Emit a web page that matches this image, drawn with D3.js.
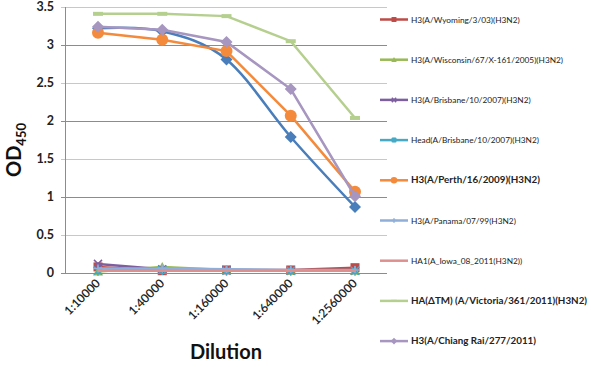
<!DOCTYPE html>
<html><head><meta charset="utf-8">
<script src="https://cdn.jsdelivr.net/npm/d3@7"></script>
<style>body{margin:0;background:#fff}svg{display:block}text{font-family:Lato,Carlito,"Open Sans","Liberation Sans",sans-serif}</style>
</head><body>
<script>
const categories = ["1:10000","1:40000","1:160000","1:640000","1:2560000"];
const yTicks = [0,0.5,1,1.5,2,2.5,3,3.5];
const seriesNames = ["","H3(A/Wyoming/3/03)(H3N2)","H3(A/Wisconsin/67/X-161/2005)(H3N2)","H3(A/Brisbane/10/2007)(H3N2)","Head(A/Brisbane/10/2007)(H3N2)","H3(A/Perth/16/2009)(H3N2)","H3(A/Panama/07/99(H3N2)","HA1(A_Iowa_08_2011(H3N2))","HA(ΔTM) (A/Victoria/361/2011)(H3N2)","H3(A/Chiang Rai/277/2011)"];
const valsSeries1 = [3.22,3.18,2.81,1.79,0.87];
const valsWyoming = [0.08,0.03,0.04,0.04,0.07];
const valsWisconsin = [0.02,0.08,0.04,0.03,0.03];
const valsBrisbane = [0.12,0.05,0.04,0.03,0.03];
const valsHead = [0.03,0.04,0.03,0.03,0.03];
const valsPerth = [3.16,3.07,2.92,2.07,1.07];
const valsPanama = [0.06,0.06,0.05,0.04,0.04];
const valsIowa = [0.03,0.03,0.03,0.03,0.03];
const valsVictoria = [3.41,3.41,3.38,3.05,2.04];
const valsChiangRai = [3.24,3.2,3.04,2.42,1.01];

const allVals = [valsSeries1,valsWyoming,valsWisconsin,valsBrisbane,valsHead,valsPerth,valsPanama,valsIowa,valsVictoria,valsChiangRai];
const colors = ["#4A7EBB","#BE4B48","#98B954","#7D5FA0","#46AAC5","#F38A3C","#8FAEDA","#DC918F","#B5CF8F","#A696C0"];
const markers = ["diamond","square","triangle","x","asterisk","circle","plus","none","dash","diamondSmall"];
const boldLegend = [false,false,false,false,false,true,false,false,true,true];

const W=591,H=367;
const svg=d3.select("body").append("svg").attr("width",W).attr("height",H);
const x=d3.scalePoint().domain(categories).range([98,355]);
const y=d3.scaleLinear().domain([0,3.5]).range([273,7]);

// gridlines
svg.append("g").selectAll("line").data(yTicks).join("line")
 .attr("x1",61).attr("x2",387).attr("y1",d=>Math.round(y(d))+0.5).attr("y2",d=>Math.round(y(d))+0.5)
 .attr("stroke",(d,i)=>i%2===0?"#8C8C8C":"#C8C8C8").attr("stroke-width",1);
svg.append("line").attr("x1",65.5).attr("x2",65.5).attr("y1",7).attr("y2",273).attr("stroke","#8C8C8C");

// y tick labels
svg.append("g").selectAll("text").data(yTicks).join("text")
 .attr("x",54).attr("y",d=>y(d)+4).attr("text-anchor","end")
 .attr("font-size",12.5).attr("font-weight","bold").attr("fill","#222").text(d=>d);

// x tick labels
svg.append("g").selectAll("text").data(categories).join("text")
 .attr("transform",d=>`translate(${x(d)+3},${284}) rotate(-45)`)
 .attr("text-anchor","end").attr("font-size",12).attr("font-weight","600").attr("fill","#222").text(d=>d);

// axis titles
const yt=svg.append("text").attr("transform","translate(21,150) rotate(-90)").attr("text-anchor","middle")
 .attr("font-weight","bold").attr("fill","#111");
yt.append("tspan").attr("font-size",20).text("OD");
yt.append("tspan").attr("font-size",13).attr("dy",5).text("450");
svg.append("text").attr("x",226).attr("y",359).attr("text-anchor","middle").attr("font-size",20)
 .attr("font-weight","bold").attr("fill","#111").text("Dilution");

function drawMarker(g,type,cx,cy,color,scale){
 const s=scale||1;
 if(type==="diamond"||type==="diamondSmall"){g.append("path").attr("d",`M${cx},${cy-6*s}L${cx+6*s},${cy}L${cx},${cy+6*s}L${cx-6*s},${cy}Z`).attr("fill",color);}
 else if(type==="square"){g.append("rect").attr("x",cx-4.5*s).attr("y",cy-4.5*s).attr("width",9*s).attr("height",9*s).attr("fill",color);}
 else if(type==="triangle"){g.append("path").attr("d",`M${cx},${cy-5*s}L${cx+5*s},${cy+4*s}L${cx-5*s},${cy+4*s}Z`).attr("fill",color);}
 else if(type==="circle"){g.append("circle").attr("cx",cx).attr("cy",cy).attr("r",6*s).attr("fill",color);}
 else if(type==="x"){g.append("path").attr("d",`M${cx-4*s},${cy-4*s}L${cx+4*s},${cy+4*s}M${cx+4*s},${cy-4*s}L${cx-4*s},${cy+4*s}`).attr("stroke",color).attr("stroke-width",1.5);}
 else if(type==="asterisk"){g.append("path").attr("d",`M${cx-4*s},${cy-4*s}L${cx+4*s},${cy+4*s}M${cx+4*s},${cy-4*s}L${cx-4*s},${cy+4*s}M${cx},${cy-5*s}L${cx},${cy+5*s}`).attr("stroke",color).attr("stroke-width",1.5);}
 else if(type==="plus"){g.append("path").attr("d",`M${cx-4*s},${cy}L${cx+4*s},${cy}M${cx},${cy-4*s}L${cx},${cy+4*s}`).attr("stroke",color).attr("stroke-width",1.5);}
 else if(type==="dash"){g.append("rect").attr("x",cx-5*s).attr("y",cy-2*s).attr("width",10*s).attr("height",4*s).attr("fill",color);}
}

const plot=svg.append("g");
allVals.forEach((vals,i)=>{
 const curve = i===0 ? d3.curveCatmullRom.alpha(0) : d3.curveLinear;
 const line=d3.line().x((d,j)=>x(categories[j])).y(d=>y(d)).curve(curve);
 plot.append("path").datum(vals).attr("d",line).attr("fill","none").attr("stroke",colors[i]).attr("stroke-width",2.5);
 vals.forEach((v,j)=>drawMarker(plot,markers[i],x(categories[j]),y(v),colors[i],1));
});
svg.append("line").attr("x1",61).attr("x2",387).attr("y1",273.5).attr("y2",273.5).attr("stroke","#8C8C8C");

// legend (first series has no visible entry)
const leg=svg.append("g");
seriesNames.forEach((name,i)=>{
 if(i===0) return;
 const ly=19.5+(i-1)*40.2;
 leg.append("line").attr("x1",380).attr("x2",408).attr("y1",ly).attr("y2",ly).attr("stroke",colors[i]).attr("stroke-width",2.5);
 if(markers[i]!=="none") drawMarker(leg,markers[i],394,ly,colors[i],0.55);
 leg.append("text").attr("x",411).attr("y",ly+3).attr("font-size",boldLegend[i]?9.8:8.3)
  .attr("font-weight",boldLegend[i]?"bold":"normal").attr("fill","#222").text(name);
});
</script>
</body></html>
